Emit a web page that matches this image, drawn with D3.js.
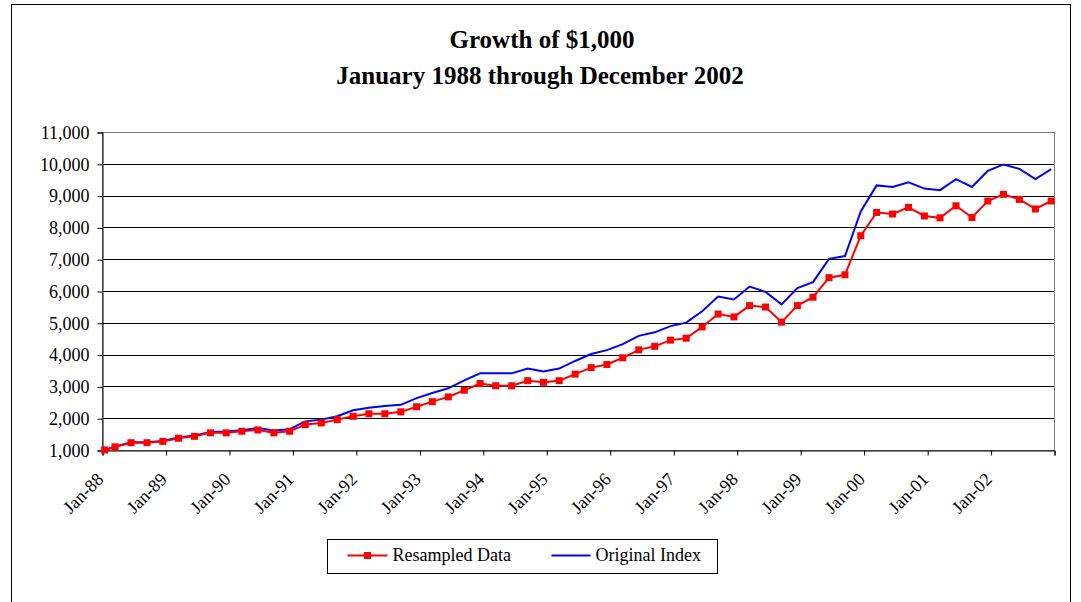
<html>
<head>
<style>
    body { margin:0; background:#fff; }
    svg { display:block; font-family:"Liberation Serif","Times New Roman",serif; }
    .axis path, .axis line { stroke:#000; }
    .axis text { fill:#000; }
</style>
</head>
<body>
<svg></svg>
<script src="https://cdn.jsdelivr.net/npm/d3@7/dist/d3.min.js"></script>
<script>
// quarter-end months, first point is the Jan-88 start
const dates = ["1988-01",
    "1988-03","1988-06","1988-09","1988-12","1989-03","1989-06","1989-09","1989-12",
    "1990-03","1990-06","1990-09","1990-12","1991-03","1991-06","1991-09","1991-12",
    "1992-03","1992-06","1992-09","1992-12","1993-03","1993-06","1993-09","1993-12",
    "1994-03","1994-06","1994-09","1994-12","1995-03","1995-06","1995-09","1995-12",
    "1996-03","1996-06","1996-09","1996-12","1997-03","1997-06","1997-09","1997-12",
    "1998-03","1998-06","1998-09","1998-12","1999-03","1999-06","1999-09","1999-12",
    "2000-03","2000-06","2000-09","2000-12","2001-03","2001-06","2001-09","2001-12",
    "2002-03","2002-06","2002-09","2002-12"];

const resampled = [1000,
    1100,1230,1230,1270,1370,1430,1540,1540,
    1590,1630,1540,1590,1800,1850,1955,2060,
    2140,2140,2200,2360,2520,2670,2880,3090,
    3020,3020,3180,3130,3180,3385,3590,3690,
    3900,4150,4260,4455,4515,4870,5275,5185,
    5540,5495,5020,5540,5805,6420,6510,7740,
    8470,8420,8630,8360,8300,8680,8310,8830,
    9040,8880,8580,8830];

const original = [1000,
    1100,1240,1240,1280,1390,1460,1570,1580,
    1620,1695,1615,1655,1900,1955,2060,2250,
    2330,2380,2420,2630,2790,2940,3190,3410,
    3410,3410,3560,3470,3560,3800,4020,4140,
    4330,4590,4700,4895,5005,5365,5825,5735,
    6140,5970,5580,6090,6280,7010,7100,8500,
    9320,9270,9420,9220,9170,9520,9270,9780,
    9980,9840,9520,9830];

const yearTicks = [1988,1989,1990,1991,1992,1993,1994,1995,1996,1997,1998,1999,2000,2001,2002,2003];
const tickLabels = ["Jan-88","Jan-89","Jan-90","Jan-91","Jan-92","Jan-93","Jan-94","Jan-95",
    "Jan-96","Jan-97","Jan-98","Jan-99","Jan-00","Jan-01","Jan-02",""];
const yTicks = [1000,2000,3000,4000,5000,6000,7000,8000,9000,10000,11000];

const width = 1081;
const height = 602;
const margin = ({top: 132, right: 27, bottom: 152, left: 102});

const svg = d3.select("svg")
    .attr("width", width)
    .attr("height", height);

// outer chart frame
svg.append("rect")
    .attr("x", 11.5).attr("y", 4.5)
    .attr("width", 1059).attr("height", 640)
    .attr("fill", "#fff")
    .attr("stroke", "#000");

const parse = d3.timeParse("%Y-%m");
const mid = s => { const d = parse(s); d.setDate(16); return d; };

const x = d3.scaleTime()
    .domain([new Date(1988, 0, 1), new Date(2003, 0, 1)])
    .range([margin.left, width - margin.right]);

const y = d3.scaleLinear()
    .domain([1000, 11000])
    .range([height - margin.bottom, margin.top]);

// grid
svg.append("g")
    .selectAll("line")
    .data(yTicks)
    .join("line")
    .attr("x1", margin.left).attr("x2", width - margin.right)
    .attr("y1", d => Math.round(y(d)) + 0.5).attr("y2", d => Math.round(y(d)) + 0.5)
    .attr("stroke", "#000");

svg.append("rect")
    .attr("x", margin.left + 0.5).attr("y", Math.round(y(11000)) + 0.5)
    .attr("width", width - margin.right - margin.left)
    .attr("height", y(1000) - y(11000))
    .attr("fill", "none")
    .attr("stroke", "#808080");

// axes
const yAxis = d3.axisLeft(y)
    .tickValues(yTicks)
    .tickFormat(d3.format(","))
    .tickSize(5)
    .tickPadding(8);

svg.append("g")
    .attr("class", "axis")
    .attr("transform", `translate(${margin.left + 0.5},0.5)`)
    .call(yAxis)
    .selectAll("text")
    .attr("font-size", 18)
    .attr("font-family", "Liberation Serif");

const xAxis = d3.axisBottom(x)
    .tickValues(yearTicks.map(yr => new Date(yr, 0, 1)))
    .tickFormat((d, i) => tickLabels[i])
    .tickSize(5);

svg.append("g")
    .attr("class", "axis")
    .attr("transform", `translate(0.5,${Math.round(y(1000)) + 0.5})`)
    .call(xAxis)
    .selectAll("text")
    .attr("font-size", 18)
    .attr("font-family", "Liberation Serif")
    .attr("text-anchor", "end")
    .attr("x", 0).attr("y", 0).attr("dy", 0)
    .attr("transform", "translate(1.5,30) rotate(-45)");

svg.selectAll(".axis .domain").attr("stroke", "#000");

// series
const line = d3.line()
    .x((d, i) => x(mid(dates[i])))
    .y(d => y(d));

svg.append("path")
    .datum(original)
    .attr("fill", "none")
    .attr("stroke", "#0000ff")
    .attr("stroke-width", 2)
    .attr("d", line);

svg.append("path")
    .datum(resampled)
    .attr("fill", "none")
    .attr("stroke", "#ff0000")
    .attr("stroke-width", 2)
    .attr("d", line);

svg.append("g")
    .selectAll("rect")
    .data(resampled)
    .join("rect")
    .attr("x", (d, i) => x(mid(dates[i])) - 3.5)
    .attr("y", d => y(d) - 3.5)
    .attr("width", 7).attr("height", 7)
    .attr("fill", "#ff0000");

// title
const title = svg.append("text")
    .attr("text-anchor", "middle")
    .attr("font-weight", "bold")
    .attr("font-size", 25)
    .attr("fill", "#000");
title.append("tspan").attr("x", 542).attr("y", 48).text("Growth of $1,000");
title.append("tspan").attr("x", 540).attr("y", 84).text("January 1988 through December 2002");

// legend
const legend = svg.append("g").attr("transform", "translate(327.5,539.5)");
legend.append("rect")
    .attr("width", 390).attr("height", 34)
    .attr("fill", "#fff")
    .attr("stroke", "#000");

legend.append("line")
    .attr("x1", 20).attr("x2", 60).attr("y1", 16).attr("y2", 16)
    .attr("stroke", "#ff0000").attr("stroke-width", 2);
legend.append("rect")
    .attr("x", 36.5).attr("y", 12.5).attr("width", 7).attr("height", 7)
    .attr("fill", "#ff0000");
legend.append("text")
    .attr("x", 65).attr("y", 21)
    .attr("font-size", 18)
    .text("Resampled Data");

legend.append("line")
    .attr("x1", 224).attr("x2", 263).attr("y1", 16).attr("y2", 16)
    .attr("stroke", "#0000ff").attr("stroke-width", 2);
legend.append("text")
    .attr("x", 268).attr("y", 21)
    .attr("font-size", 18)
    .text("Original Index");
</script>
</body>
</html>
